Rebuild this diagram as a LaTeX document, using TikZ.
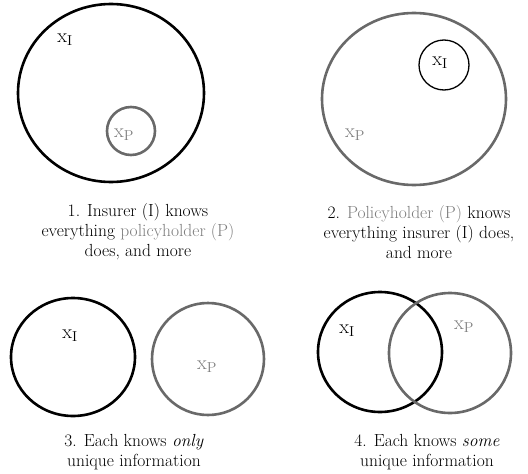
\documentclass[tikz,border=0pt]{standalone}
\usepackage{tikz}
\usetikzlibrary{positioning}
\definecolor{pgray}{RGB}{105,105,105}
\definecolor{tgray}{RGB}{125,125,125}

\begin{document}
\begin{tikzpicture}[
    x=1pt, y=-1pt,
    insurer/.style={draw=black, line width=2.6pt},
    holder/.style={draw=pgray, line width=2.6pt},
    lab/.style={font=\fontsize{20}{22}\selectfont, inner sep=0pt},
    caption/.style={align=center, font=\fontsize{17.5}{20}\selectfont, inner sep=0pt},
]
    \useasboundingbox (0,0) rectangle (528,474);

    % 1. insurer knows more
    \draw[insurer] (111,93) ellipse [x radius=93, y radius=89];
    \draw[holder] (131,131) circle [radius=24];
    \node[lab] (xi1) at (65,40) {x$_{\mathrm{I}}$};
    \node[lab, text=tgray] (xp1) at (124,135) {x$_{\mathrm{P}}$};
    \node[caption] (cap1) at (138,232) {
        1. Insurer (I) knows\\
        everything \textcolor{tgray}{policyholder (P)}\\
        does, and more
    };

    % 2. policyholder knows more
    \draw[holder] (414,99) ellipse [x radius=92, y radius=86];
    \draw[insurer, line width=1.3pt] (444,65) circle [radius=25];
    \node[lab] (xi2) at (440,63) {x$_{\mathrm{I}}$};
    \node[lab, text=tgray] (xp2) at (355,135) {x$_{\mathrm{P}}$};
    \node[caption] (cap2) at (419,232) {
        2. \textcolor{tgray}{Policyholder (P)} knows\\
        everything insurer (I) does,\\
        and more
    };

    % 3. disjoint
    \draw[insurer] (73,357) ellipse [x radius=62, y radius=59];
    \draw[holder] (208,359) ellipse [x radius=56, y radius=56];
    \node[lab] (xi3) at (70,336) {x$_{\mathrm{I}}$};
    \node[lab, text=tgray] (xp3) at (207,367) {x$_{\mathrm{P}}$};
    \node[caption] (cap3) at (134,452) {
        3. Each knows \textit{only}\\
        unique information
    };

    % 4. overlapping
    \draw[insurer] (380,352) ellipse [x radius=62, y radius=60];
    \draw[holder] (450,353) ellipse [x radius=61, y radius=60];
    \node[lab] (xi4) at (347,331) {x$_{\mathrm{I}}$};
    \node[lab, text=tgray] (xp4) at (464,327) {x$_{\mathrm{P}}$};
    \node[caption] (cap4) at (427,452) {
        4. Each knows \textit{some}\\
        unique information
    };
\end{tikzpicture}
\end{document}
